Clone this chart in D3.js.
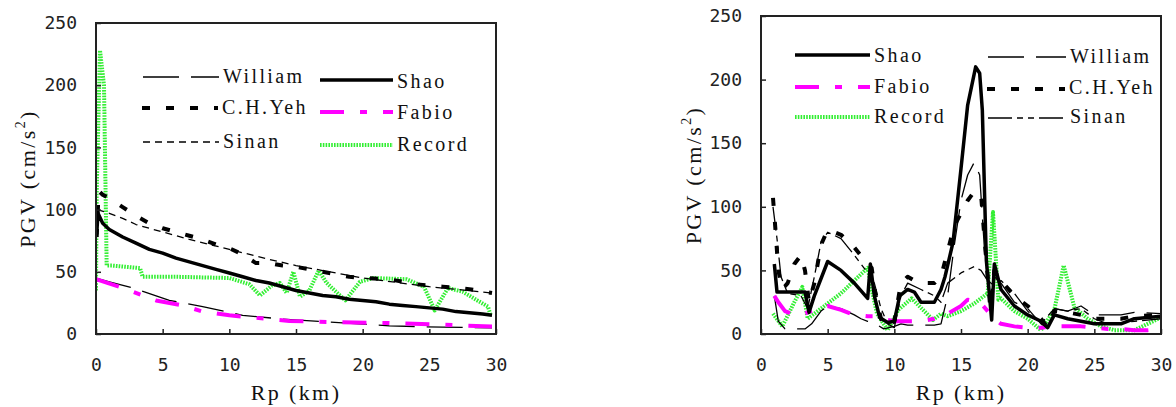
<!DOCTYPE html>
<html>
<head>
<meta charset="utf-8">
<script src="https://cdn.jsdelivr.net/npm/d3@7"></script>
<style>
  body { margin: 0; background: #fff; }
  svg { display: block; }
  .tick text { font-family: "DejaVu Sans Mono", monospace; font-size: 18px; fill: #222; }
  .legend text, .title { font-family: "Liberation Serif", "DejaVu Serif", serif; fill: #111; letter-spacing: 2.4px; }
</style>
</head>
<body>
<svg id="chart" width="1176" height="407"></svg>
<script>
// ---- data: PGV (cm/s^2) against Rp (km) ----
const xTicks = [0, 5, 10, 15, 20, 25, 30];
const yTicks = [0, 50, 100, 150, 200, 250];

// left panel
const leftShao = [[0.05,80],[0.15,97],[0.5,89],[1,84],[2,78],[3,73],[4,68],[5,65],[6,61],[7,58],[8,55],[9,52],[10,49],[11,46],[12,43],[13,41],[14,38],[15,35],[16,33],[17,31],[18,30],[19,28],[20,27],[21,26],[22,24],[23,23],[24,22],[25,21],[26,20],[27,18],[28,17],[29,16],[29.7,15]];
const leftYeh = [[0.05,78],[0.2,115],[0.5,112],[1,109],[2,102],[3,95],[4,89],[5,85],[6,82],[7,79],[8,76],[9,72],[10,69],[11,64],[12,57],[13,57],[14,55],[15,54],[16,52],[17,50],[18,48],[19,46],[20,45],[22,44],[24,40],[26,38],[28,36],[29.7,33]];
const leftSinan = [[0.1,100],[1,97],[2,93],[3,88],[5,82],[7,76],[10,68],[13,60],[15,55],[20,45],[25,38],[29.7,33]];
const leftWilliam = [[0,45],[1,42],[2.8,37],[5.5,27],[8,22],[11,15],[14,12],[17,10],[22,6.5],[26,5.5],[29.7,5]];
const leftFabio = [[0,44],[2,37],[4.5,27],[6.5,23],[8,18],[10,15],[14.5,10.5],[18,9.5],[22,8.8],[26,7.5],[29.7,6]];
const leftRecord = [[0,35],[0.05,113],[0.3,228],[0.6,200],[0.8,55],[1.2,55],[3.3,53],[3.5,46],[6,46],[10,45],[11.5,40],[12.3,31],[13.2,39],[13.8,41],[14.3,33],[14.8,50],[15.3,30],[16,35],[16.7,51],[17.3,41],[18.7,27],[19.8,42],[20.8,45],[23.3,44],[24.6,38],[25.4,19],[26.4,37],[27.5,34],[28.6,27],[29.4,22],[29.6,15]];

// right panel
const rightShao = [[1.0,55],[1.2,33],[3.3,33],[3.6,17],[4.0,30],[5.0,57],[6.0,50],[7.0,40],[8.0,28],[8.2,55],[8.5,30],[8.9,13],[9.5,9],[10.0,10],[10.4,30],[11,35],[11.5,33],[12,25],[13,25],[13.5,35],[13.8,45],[14.4,72],[15,130],[15.5,180],[16.1,210],[16.4,205],[16.6,176],[16.9,58],[17.3,11],[17.5,55],[18,35],[19,22],[20,15],[21,10],[21.5,5],[22,15],[23,12],[24,10],[25,8],[26,8],[27,8],[28,12],[30,14]];
const rightWilliam = [[1.0,30],[1.3,10],[1.8,4],[3.3,4],[3.8,8],[4.5,18],[5,22],[6,20],[7,15],[7.5,12],[8,10],[8.6,8],[9.2,4],[10,6],[10.5,8],[11,7],[12,7],[13,7],[13.5,8],[14,30],[14.5,70],[15,105],[15.5,125],[16,135],[16.4,125],[16.8,60],[17.2,30],[17.5,45],[18,40],[19,25],[20,20],[21,8],[21.5,5],[22,20],[23,18],[24,22],[25,15],[26,15],[27,15],[28,17],[30,16]];
const rightYeh = [[0.9,107],[1.1,80],[1.3,50],[1.6,35],[2,40],[2.5,55],[3,62],[3.3,50],[3.6,25],[4,40],[4.5,70],[5,82],[6,78],[7,68],[8,55],[8.3,52],[8.6,30],[9,12],[9.5,5],[10,10],[10.5,40],[11,45],[11.5,42],[12,40],[13,40],[13.5,45],[14,65],[14.5,85],[15,95],[15.5,105],[16,112],[16.5,110],[16.8,70],[17.2,20],[17.5,50],[18,42],[19,30],[20,22],[21,12],[21.5,5],[22,18],[23,17],[24,15],[25,12],[26,12],[27,12],[28,14],[30,15]];
const rightSinan = [[0.9,100],[1.2,75],[1.5,45],[2,32],[3,30],[3.5,20],[4,45],[4.5,72],[5,80],[6,75],[7,62],[8,48],[8.5,40],[9,20],[9.5,8],[10,5],[10.5,30],[11,40],[12,35],[13,30],[13.5,25],[14,40],[15,48],[16,53],[16.5,50],[17,42],[17.5,38],[18,42],[19,32],[20,18],[21,8],[22,20],[23,18],[24,20],[25,12],[26,8],[28,10],[30,12]];
const rightFabio = [[1.0,30],[1.3,25],[1.8,18],[2.5,15],[3,15],[3.5,17],[4,19],[5,22],[6,19],[7,15],[8,14],[8.5,14],[9,12],[10,10],[11,10],[12,10],[13,12],[14,16],[15,22],[15.5,27],[16,26],[16.5,24],[17,18],[17.5,12],[18,8],[19,6],[20,5],[21,5],[22,6],[23,6],[24,6],[25,5],[26,4],[27,4],[28,3],[29,3],[30,4]];
const rightRecord = [[0.9,16],[1.6,6],[2.5,25],[3.1,37],[3.5,12],[4,16],[5,24],[6,32],[7,42],[8,52],[8.3,35],[8.7,16],[9.5,3],[10.3,19],[11.3,28],[12.9,11],[13.5,16],[14,14],[15,18],[16,24],[17,32],[17.4,96],[17.8,27],[18,28],[19,18],[20,12],[21,3],[22,19],[22.7,54],[23.5,21],[24.5,12],[25.5,6],[26.5,3],[28,3],[29,8],[30,13]];

// ---- line styles ----
const styles = {
  Shao:    { stroke: "#000", width: 3.5, dash: null },
  William: { stroke: "#000", width: 1.3, dash: "36,12" },
  Yeh:     { stroke: "#000", width: 4, dash: "8,16" },
  Fabio:   { stroke: "#ff00ff", width: 4, dash: "24,16,7,16" },
  SinanL:  { stroke: "#000", width: 1.3, dash: "7,5" },
  SinanR:  { stroke: "#000", width: 1.3, dash: "24,5,6,5,6,5" },
  Record:  { stroke: "#33ee33", width: 4, dash: "1.6,1.2" },
};

const svg = d3.select("#chart");

function panel(cfg) {
  const x = d3.scaleLinear().domain([0, 30]).range(cfg.xr);
  const y = d3.scaleLinear().domain([0, 250]).range(cfg.yr);
  const g = svg.append("g");

  const clipId = "clip" + cfg.id;
  svg.append("clipPath").attr("id", clipId).append("rect")
    .attr("x", cfg.xr[0]).attr("y", cfg.yr[1])
    .attr("width", cfg.xr[1] - cfg.xr[0]).attr("height", cfg.yr[0] - cfg.yr[1]);

  const line = d3.line().x(d => x(d[0])).y(d => y(d[1]));
  const lines = g.append("g").attr("clip-path", `url(#${clipId})`);
  for (const s of cfg.series) {
    const st = styles[s.style];
    lines.append("path")
      .attr("d", line(s.data))
      .attr("fill", "none")
      .attr("stroke", st.stroke)
      .attr("stroke-width", st.width)
      .attr("stroke-dasharray", st.dash)
      .attr("stroke-linejoin", "round");
  }

  // axes, ticks pointing inward
  g.append("g").attr("transform", `translate(0,${cfg.yr[0]})`)
    .call(d3.axisBottom(x).tickValues(xTicks).tickSizeInner(-5).tickSizeOuter(0).tickPadding(24))
    .call(a => a.select(".domain").remove())
    .call(a => a.selectAll("line").attr("stroke", "#222").attr("stroke-width", 1.5));
  g.append("g").attr("transform", `translate(${cfg.xr[0]},0)`)
    .call(d3.axisLeft(y).tickValues(yTicks).tickSizeInner(-5).tickSizeOuter(0).tickPadding(19))
    .call(a => a.select(".domain").remove())
    .call(a => a.selectAll("line").attr("stroke", "#222").attr("stroke-width", 1.5));

  g.append("rect")
    .attr("x", cfg.xr[0]).attr("y", cfg.yr[1])
    .attr("width", cfg.xr[1] - cfg.xr[0]).attr("height", cfg.yr[0] - cfg.yr[1])
    .attr("fill", "none").attr("stroke", "#222").attr("stroke-width", 2);

  // titles
  g.append("text").attr("class", "title")
    .attr("x", (cfg.xr[0] + cfg.xr[1]) / 2).attr("y", 395)
    .attr("text-anchor", "middle").attr("dominant-baseline", "middle")
    .attr("font-size", 22).text("Rp (km)");
  const yt = g.append("text").attr("class", "title")
    .attr("transform", `translate(${cfg.ytx},${(cfg.yr[0] + cfg.yr[1]) / 2}) rotate(-90)`)
    .attr("text-anchor", "middle").attr("dominant-baseline", "middle")
    .attr("font-size", 22);
  yt.append("tspan").text("PGV (cm/s");
  yt.append("tspan").attr("font-size", 14).attr("dy", -8).text("2");
  yt.append("tspan").attr("dy", 8).text(")");

  // legend
  const lg = g.append("g").attr("class", "legend");
  for (const it of cfg.legend) {
    const st = styles[it.style];
    lg.append("line")
      .attr("x1", it.x).attr("x2", it.x + it.len).attr("y1", it.y).attr("y2", it.y)
      .attr("stroke", st.stroke).attr("stroke-width", st.width)
      .attr("stroke-dasharray", st.dash);
    lg.append("text")
      .attr("x", it.x + it.len + 4).attr("y", it.ty)
      .attr("dominant-baseline", "middle").attr("font-size", 20)
      .text(it.label);
  }
}

panel({
  id: "L", xr: [96, 496], yr: [334, 23], ytx: 30,
  series: [
    { style: "Record", data: leftRecord },
    { style: "William", data: leftWilliam },
    { style: "Fabio", data: leftFabio },
    { style: "SinanL", data: leftSinan },
    { style: "Yeh", data: leftYeh },
    { style: "Shao", data: leftShao },
  ],
  legend: [
    { style: "William", label: "William", x: 143, len: 76, y: 77, ty: 78 },
    { style: "Yeh", label: "C.H.Yeh", x: 142, len: 76, y: 108, ty: 109 },
    { style: "SinanL", label: "Sinan", x: 143, len: 76, y: 142, ty: 143 },
    { style: "Shao", label: "Shao", x: 320, len: 73, y: 80, ty: 83 },
    { style: "Fabio", label: "Fabio", x: 320, len: 73, y: 112, ty: 114 },
    { style: "Record", label: "Record", x: 320, len: 73, y: 145, ty: 146 },
  ],
});

panel({
  id: "R", xr: [761, 1161], yr: [334, 16], ytx: 696,
  series: [
    { style: "Record", data: rightRecord },
    { style: "William", data: rightWilliam },
    { style: "Fabio", data: rightFabio },
    { style: "SinanR", data: rightSinan },
    { style: "Yeh", data: rightYeh },
    { style: "Shao", data: rightShao },
  ],
  legend: [
    { style: "Shao", label: "Shao", x: 795, len: 75, y: 55, ty: 57 },
    { style: "Fabio", label: "Fabio", x: 795, len: 75, y: 87, ty: 88 },
    { style: "Record", label: "Record", x: 795, len: 75, y: 117, ty: 118 },
    { style: "William", label: "William", x: 988, len: 78, y: 57, ty: 58 },
    { style: "Yeh", label: "C.H.Yeh", x: 987, len: 78, y: 89, ty: 89 },
    { style: "SinanR", label: "Sinan", x: 988, len: 78, y: 118, ty: 118 },
  ],
});
</script>
</body>
</html>
